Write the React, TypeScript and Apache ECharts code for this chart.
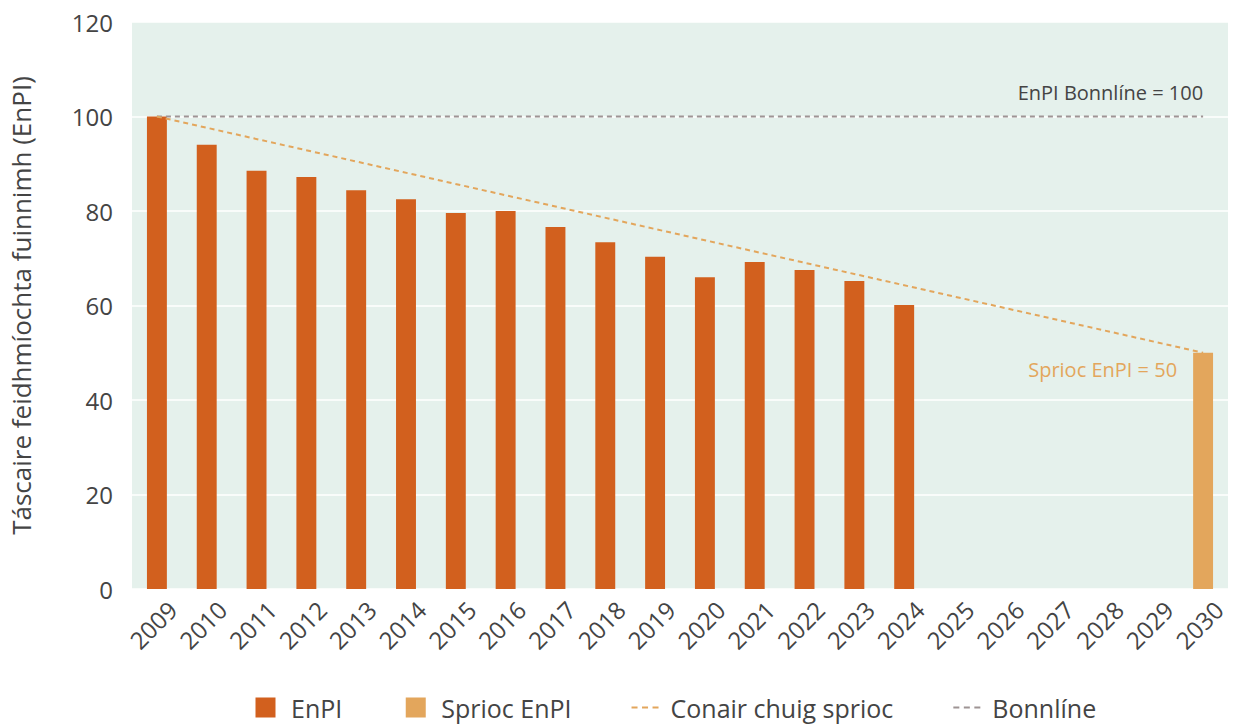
import React, { useEffect, useRef } from "react";
import * as echarts from "echarts";

const years = ["2009","2010","2011","2012","2013","2014","2015","2016","2017","2018","2019","2020","2021","2022","2023","2024","2025","2026","2027","2028","2029","2030"];
const enpi: (number | null)[] = [100, 94.0, 88.5, 87.2, 84.4, 82.5, 79.6, 80.0, 76.6, 73.4, 70.3, 66.0, 69.2, 67.5, 65.2, 60.1, null, null, null, null, null, null];
const spriocValue = 50;
const baselineValue = 100;
const yTicks = { min: 0, max: 120, interval: 20 };

const FONT = "'Open Sans', 'Noto Sans', sans-serif";
const NARROW = "'Liberation Sans Narrow', 'Open Sans', sans-serif";

const BOUNDS = "M0,0L0.01,0M27,20L26.99,20";
const RECT_ICON = "path://" + BOUNDS + "M3.5,0h20v20h-20z";
const DASH_ICON = "path://" + BOUNDS + "M0,9h6v2h-6zM10.5,9h6v2h-6zM21,9h6v2h-6z";

export default function App() {
  const ref = useRef<HTMLDivElement>(null);
  useEffect(() => {
    if (!ref.current) return;
    const chart = echarts.init(ref.current, undefined, { renderer: "svg" });
    const last = years.length - 1;
    const sprioc = years.map((_, i) =>
      i === last
        ? {
            value: spriocValue,
            label: {
              show: true,
              formatter: "Sprioc EnPI = 50",
              position: [-16, 17],
              align: "right",
              verticalAlign: "middle",
              color: "#e3a65c",
              fontSize: 20,
              fontFamily: NARROW,
            },
          }
        : null
    );
    const path = years.map((_, i) => (i === 0 ? baselineValue : i === last ? spriocValue : null));
    const baseline = years.map(() => baselineValue);
    chart.setOption({
      animation: false,
      textStyle: { fontFamily: FONT },
      grid: {
        left: 132,
        right: 10,
        top: 22,
        bottom: 137,
        show: true,
        backgroundColor: "#e5f1ec",
        borderWidth: 0,
      },
      legend: {
        bottom: 1,
        left: 247,
        itemWidth: 27,
        itemHeight: 20,
        itemGap: 60,
        textStyle: { fontSize: 25, color: "#444", fontFamily: FONT, padding: [0, 0, 0, 7] },
        data: [
          { name: "EnPI", icon: RECT_ICON, itemStyle: { color: "#d2601e" } },
          { name: "Sprioc EnPI", icon: RECT_ICON, itemStyle: { color: "#e3a65c" } },
          { name: "Conair chuig sprioc", icon: DASH_ICON, itemStyle: { color: "#e3a65c" } },
          { name: "Bonnlíne", icon: DASH_ICON, itemStyle: { color: "#9e9494" } },
        ],
      },
      xAxis: {
        type: "category",
        data: years,
        axisLine: { show: false },
        axisTick: { show: false },
        axisLabel: {
          rotate: 45,
          fontSize: 24,
          color: "#444",
          margin: 32,
          interval: 0,
          padding: [0, -22, 0, 0],
          fontFamily: FONT,
        },
      },
      yAxis: {
        type: "value",
        min: yTicks.min,
        max: yTicks.max,
        interval: yTicks.interval,
        name: "Táscaire feidhmíochta fuinnimh (EnPI)",
        nameLocation: "middle",
        nameGap: 98,
        nameTextStyle: { fontSize: 26, color: "#444", fontFamily: FONT },
        axisLabel: { fontSize: 24, color: "#444", margin: 19, fontFamily: FONT },
        splitLine: { lineStyle: { color: "#ffffff", width: 1.5 } },
        axisLine: { show: false },
        axisTick: { show: false },
      },
      series: [
        {
          name: "EnPI",
          type: "bar",
          stack: "b",
          data: enpi,
          barWidth: "40%",
          itemStyle: { color: "#d2601e" },
        },
        {
          name: "Sprioc EnPI",
          type: "bar",
          stack: "b",
          data: sprioc,
          barWidth: "40%",
          itemStyle: { color: "#e3a65c" },
        },
        {
          name: "Bonnlíne",
          type: "line",
          data: baseline,
          symbol: "none",
          color: "#9e9494",
          lineStyle: { color: "#9e9494", width: 2, type: [5, 4] },
          endLabel: {
            show: true,
            formatter: "EnPI Bonnlíne = 100",
            align: "right",
            offset: [-8, -24],
            color: "#444",
            fontSize: 20,
            fontFamily: NARROW,
          },
          z: 3,
        },
        {
          name: "Conair chuig sprioc",
          type: "line",
          data: path,
          connectNulls: true,
          symbol: "none",
          color: "#e3a65c",
          lineStyle: { color: "#e3a65c", width: 2, type: [5, 4] },
          z: 4,
        },
      ],
    });
    return () => chart.dispose();
  }, []);
  return (
    <div
      ref={ref}
      style={{ position: "fixed", left: 0, top: 0, width: 1238, height: 726, background: "#fff" }}
    />
  );
}
